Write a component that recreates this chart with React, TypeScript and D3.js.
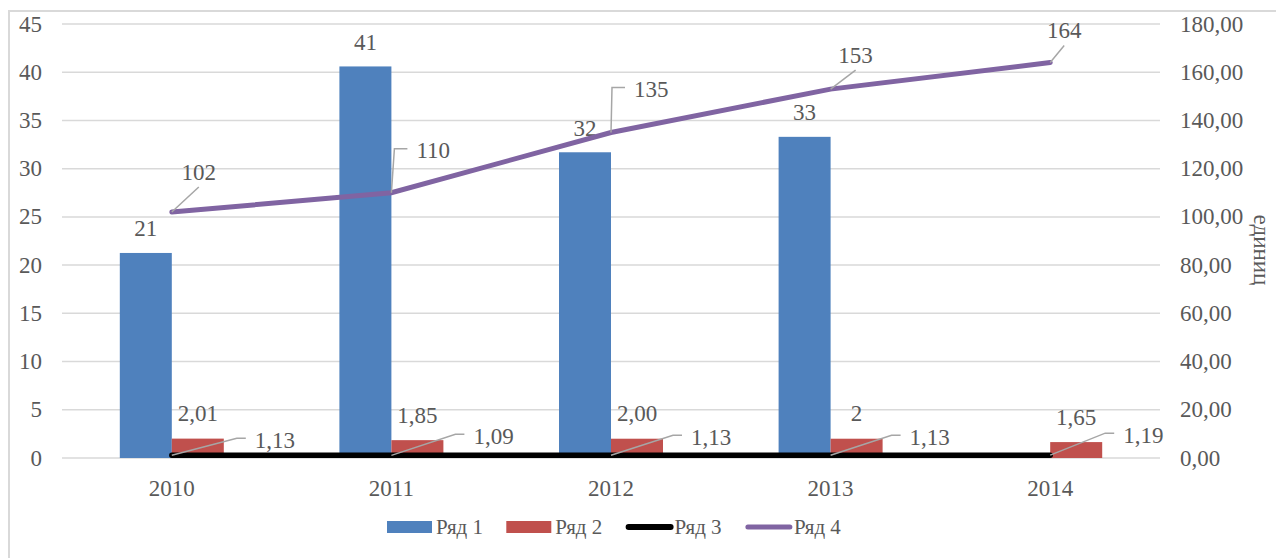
import * as d3 from "d3";
import React from "react";

const years = ["2010", "2011", "2012", "2013", "2014"];
const row1 = [21.26, 40.6, 31.7, 33.3, null];
const row1Labels = ["21", "41", "32", "33", ""];
const row2 = [2.01, 1.85, 2.0, 2.0, 1.65];
const row2Labels = ["2,01", "1,85", "2,00", "2", "1,65"];
const row3 = [1.13, 1.09, 1.13, 1.13, 1.19];
const row4 = [102, 110, 135, 153, 164];
const leftTicks = [0, 5, 10, 15, 20, 25, 30, 35, 40, 45];
const rightTicks = [0, 20, 40, 60, 80, 100, 120, 140, 160, 180];
const seriesNames = ["Ряд 1", "Ряд 2", "Ряд 3", "Ряд 4"];
const colors = ["#4F81BD", "#C0504D", "#000000", "#8064A2"];

// label placement relative to each point (dx, dy, kind)
const row3LabelPos = [
  [83, -15], [82, -19], [80, -18], [79, -18], [73, -20],
];
const row4LabelPos: [number, number, string][] = [
  [27, -40, "straight"], [25, -42, "elbow"], [23, -43, "elbow"],
  [25, -34, "straight"], [14, -32, "straight"],
];

const W = 1276, H = 558;
const font = "'Times New Roman', 'Liberation Serif', 'DejaVu Serif', serif";
const txt = "#595959";
const fs = 23;
const T = { style: { fontFamily: font }, fill: txt };

const App = () => {
  const x = d3.scaleBand().domain(years).range([62, 1160]).padding(0);
  const inner = d3.scaleBand().domain(["a", "b"]).range([-52, 52]).padding(0);
  const yL = d3.scaleLinear().domain([0, 45]).range([458, 24]);
  const yR = d3.scaleLinear().domain([0, 180]).range([458, 24]);
  const cx = (y: string) => (x(y) as number) + x.bandwidth() / 2;

  const fmt = (v: number) => v.toFixed(2).replace(".", ",");
  const line3 = d3.line<number>().x((_, i) => cx(years[i])).y((d) => yR(d));
  const line4 = d3.line<number>().x((_, i) => cx(years[i])).y((d) => yR(d));

  return (
    <div style={{ position: "absolute", left: 0, top: 0 }}>
      <svg width={W} height={H} style={{ display: "block" }}>
        <rect x={0} y={0} width={W} height={H} fill="#fff" />
        <rect x={9} y={11} width={1400} height={700} fill="none" stroke="#d9d9d9" strokeWidth={2} />

        {leftTicks.map((t) => (
          <g key={"g" + t}>
            <line x1={62} x2={1160} y1={yL(t)} y2={yL(t)} stroke="#d9d9d9" strokeWidth={1.5} />
            <text {...T} x={42} y={yL(t)} textAnchor="end" dominantBaseline="central" fontSize={fs}>{t}</text>
          </g>
        ))}
        {rightTicks.map((t) => (
          <text {...T} key={"r" + t} x={1180} y={yR(t)} dominantBaseline="central" fontSize={fs}>
            {fmt(t)}
          </text>
        ))}
        <text {...T} transform={`translate(1254,250) rotate(90)`} textAnchor="middle" fontSize={fs}>единиц</text>

        {years.map((yr) => (
          <text {...T} key={"x" + yr} x={cx(yr)} y={488} textAnchor="middle" dominantBaseline="central" fontSize={fs}>{yr}</text>
        ))}

        {years.map((yr, i) => (
          <g key={"b" + yr}>
            {row1[i] != null && (
              <rect x={cx(yr) + (inner("a") as number)} y={yL(row1[i] as number)} width={inner.bandwidth()}
                height={458 - yL(row1[i] as number)} fill={colors[0]} />
            )}
            <rect x={cx(yr) + (inner("b") as number)} y={yL(row2[i])} width={inner.bandwidth()}
              height={458 - yL(row2[i])} fill={colors[1]} />
            {row1[i] != null && (
              <text {...T} x={cx(yr) + (inner("a") as number) + inner.bandwidth() / 2} y={yL(row1[i] as number) - 24}
                textAnchor="middle" dominantBaseline="central" fontSize={fs}>{row1Labels[i]}</text>
            )}
            <text {...T} x={cx(yr) + (inner("b") as number) + inner.bandwidth() / 2} y={yL(row2[i]) - 25}
              textAnchor="middle" dominantBaseline="central" fontSize={fs}>{row2Labels[i]}</text>
          </g>
        ))}

        <path d={line3(row3) as string} fill="none" stroke={colors[2]} strokeWidth={5.5} strokeLinecap="round" />
        <path d={line4(row4) as string} fill="none" stroke={colors[3]} strokeWidth={5} strokeLinecap="round" />

        {row3.map((v, i) => {
          const px = cx(years[i]), py = yR(v);
          const lx = px + row3LabelPos[i][0], ly = py + row3LabelPos[i][1];
          return (
            <g key={"l3" + i}>
              <polyline points={`${px},${py} ${lx - 18},${ly - 2} ${lx - 9},${ly - 2}`} fill="none" stroke="#a6a6a6" strokeWidth={1.5} />
              <text {...T} x={lx} y={ly} dominantBaseline="central" fontSize={fs}>{fmt(v)}</text>
            </g>
          );
        })}
        {row4.map((v, i) => {
          const px = cx(years[i]), py = yR(v);
          const [dx, dy, kind] = row4LabelPos[i];
          const lx = px + dx, ly = py + dy;
          const pts = kind === "straight"
            ? `${px},${py} ${lx},${ly + 15}`
            : `${px},${py} ${lx - 22},${ly - 2} ${lx - 9},${ly - 2}`;
          return (
            <g key={"l4" + i}>
              <polyline points={pts} fill="none" stroke="#a6a6a6" strokeWidth={1.5} />
              <text {...T} x={lx} y={ly} textAnchor={kind === "straight" ? "middle" : "start"} dominantBaseline="central"
                fontSize={fs}>{v}</text>
            </g>
          );
        })}

        {seriesNames.map((s, i) => {
          const lx = 387 + i * 119.3;
          return (
            <g key={"lg" + s}>
              {i < 2 ? (
                <rect x={lx} y={521} width={45} height={12} fill={colors[i]} />
              ) : (
                <line x1={lx + 3} x2={lx + 45} y1={527} y2={527} stroke={colors[i]} strokeWidth={i === 2 ? 6 : 5} strokeLinecap="round" />
              )}
              <text {...T} x={lx + 49} y={527} dominantBaseline="central" fontSize={21}>{s}</text>
            </g>
          );
        })}
      </svg>
    </div>
  );
};

export default App;
